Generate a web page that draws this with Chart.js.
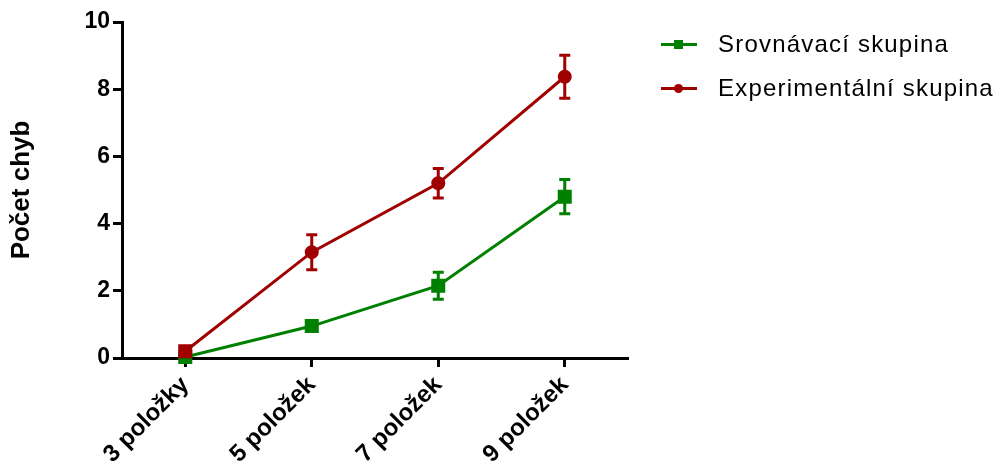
<!DOCTYPE html>
<html>
<head>
<meta charset="utf-8">
<script src="https://cdn.jsdelivr.net/npm/chart.js@4.4.1/dist/chart.umd.min.js"></script>
<style>
  body { margin: 0; background: #fff; }
  #wrap { position: relative; width: 1001px; height: 470px; }
  #legend { position: absolute; left: 660px; top: 30px; font: 24px Arial, "Liberation Sans", sans-serif; letter-spacing: 1.2px; color: #000; }
  .item { position: relative; height: 44px; line-height: 28px; padding-left: 58px; white-space: nowrap; }
  .item .ln { position: absolute; left: 1px; top: 13px; width: 36px; height: 3px; }
  .item .mk { position: absolute; left: 14px; top: 10px; width: 9px; height: 9px; }
</style>
</head>
<body>
<div id="wrap">
  <canvas id="chart" width="1001" height="470"></canvas>
  <div id="legend">
    <div class="item"><span class="ln" style="background:#008000"></span><span class="mk" style="background:#008000"></span>Srovnávací skupina</div>
    <div class="item"><span class="ln" style="background:#A00000"></span><span class="mk" style="background:#A00000;border-radius:50%"></span>Experimentální skupina</div>
  </div>
</div>
<script>
// data
var categories = ['3 položky', '5 položek', '7 položek', '9 položek'];
var srovnavaci = [0.03, 0.95, 2.15, 4.8];
var srovnavaciErr = [0, 0.16, 0.4, 0.51];
var experimentalni = [0.2, 3.15, 5.2, 8.37];
var experimentalniErr = [0, 0.52, 0.44, 0.64];
var yTicks = [0, 2, 4, 6, 8, 10];

var green = '#008000';
var red = '#A00000';

// error bars drawn through the y scale
var errorBars = {
    id: 'errorBars',
    afterDatasetsDraw: function (chart) {
        var ctx = chart.ctx;
        var yScale = chart.scales.y;
        chart.data.datasets.forEach(function (ds, i) {
            var meta = chart.getDatasetMeta(i);
            meta.data.forEach(function (pt, j) {
                var e = ds.err[j];
                if (!e) return;
                var top = yScale.getPixelForValue(ds.data[j] + e);
                var bot = yScale.getPixelForValue(ds.data[j] - e);
                ctx.save();
                ctx.strokeStyle = ds.borderColor;
                ctx.lineWidth = 3;
                ctx.beginPath();
                ctx.moveTo(pt.x, top); ctx.lineTo(pt.x, bot);
                ctx.moveTo(pt.x - 5.5, top); ctx.lineTo(pt.x + 5.5, top);
                ctx.moveTo(pt.x - 5.5, bot); ctx.lineTo(pt.x + 5.5, bot);
                ctx.stroke();
                ctx.restore();
            });
        });
    }
};

var tickFont = { family: 'Arial, "Liberation Sans", sans-serif', size: 23, weight: 'bold' };

var config = {
    type: 'line',
    data: {
        labels: categories,
        datasets: [{
            label: 'Srovnávací skupina',
            data: srovnavaci,
            err: srovnavaciErr,
            borderColor: green,
            backgroundColor: green,
            borderWidth: 3,
            pointStyle: 'rect',
            pointRadius: 7.8,
            pointHoverRadius: 7.8,
            clip: false,
            order: 2
        }, {
            label: 'Experimentální skupina',
            data: experimentalni,
            err: experimentalniErr,
            borderColor: red,
            backgroundColor: red,
            borderWidth: 3,
            pointStyle: ['rect', 'circle', 'circle', 'circle'],
            pointRadius: [7.8, 5.5, 5.5, 5.5],
            pointHoverRadius: [7.8, 5.5, 5.5, 5.5],
            clip: false,
            order: 1
        }]
    },
    options: {
        responsive: false,
        animation: false,
        layout: { padding: { top: 22, right: 373, left: 0, bottom: 0 } },
        plugins: {
            legend: { display: false },
            tooltip: { enabled: false }
        },
        scales: {
            x: {
                offset: true,
                grid: { offset: false, drawOnChartArea: false, tickLength: 9, tickWidth: 3, tickColor: '#000' },
                border: { display: true, width: 3, color: '#000' },
                ticks: { color: '#000', font: { family: tickFont.family, size: 24, weight: 'bold' }, maxRotation: 45, minRotation: 45, padding: 4 },
                afterFit: function (scale) { scale.height = 112; }
            },
            y: {
                min: 0,
                max: 10,
                afterBuildTicks: function (scale) {
                    scale.ticks = yTicks.map(function (v) { return { value: v }; });
                },
                grid: { drawOnChartArea: false, tickLength: 9, tickWidth: 3, tickColor: '#000' },
                border: { display: true, width: 3, color: '#000' },
                ticks: { color: '#000', font: tickFont, padding: 3 },
                title: { display: true, text: 'Počet chyb', color: '#000', font: { family: tickFont.family, size: 26, weight: 'bold' }, padding: { top: 6, bottom: 0 } },
                afterFit: function (scale) { scale.width = 122; }
            }
        }
    },
    plugins: [errorBars]
};

var ctx = document.getElementById('chart').getContext('2d');
var myChart = new Chart(ctx, config);
</script>
</body>
</html>
